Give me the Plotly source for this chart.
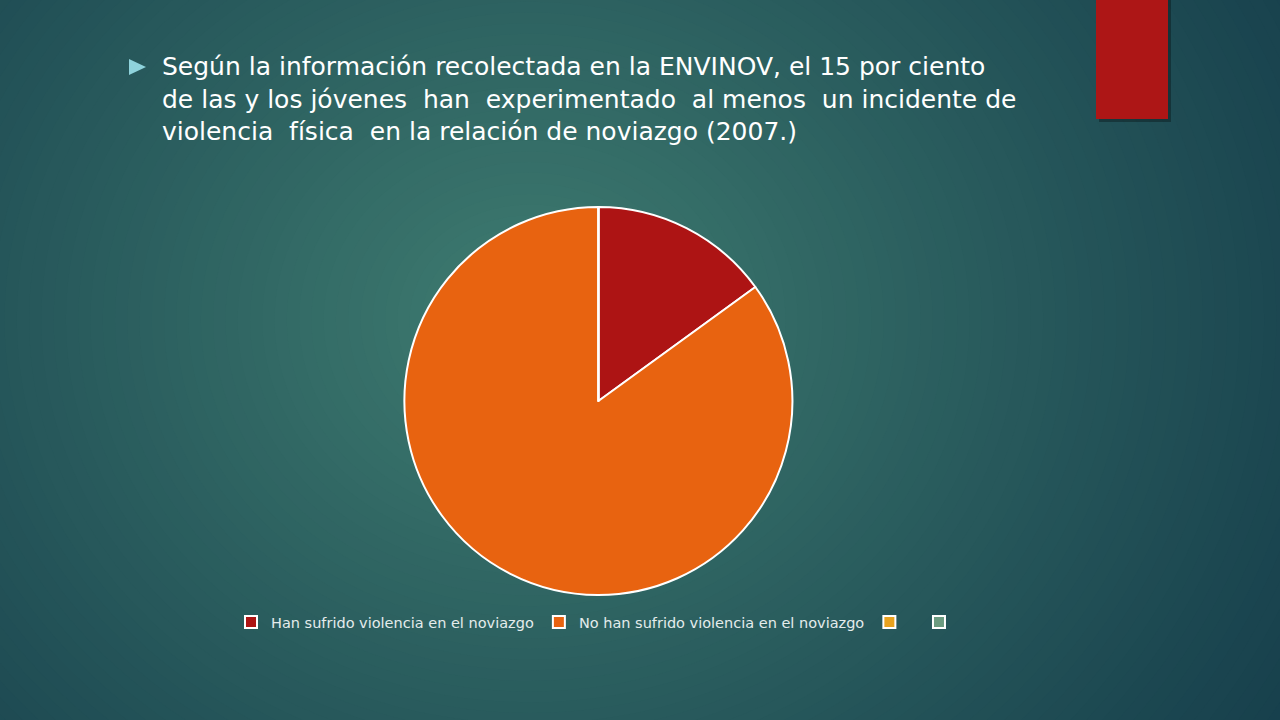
import plotly.graph_objects as go

# datos del gráfico
etiquetas = ["Han sufrido violencia en el noviazgo", "No han sufrido violencia en el noviazgo", " ", "\u00a0"]
valores = [15, 85, 0, 0]
colores = ["#ad1414", "#e86310", "#e8a21e", "#6b9b80"]

titulo = ("Según la información recolectada en la ENVINOV, el 15 por ciento<br>"
          "de las y los jóvenes  han  experimentado  al menos  un incidente de<br>"
          "violencia  física  en la relación de noviazgo (2007.)")

W, H = 1280, 720

fig = go.Figure()
fig.add_trace(go.Pie(
    labels=etiquetas,
    values=valores,
    marker=dict(colors=colores, line=dict(color="white", width=2)),
    sort=False,
    direction="clockwise",
    rotation=0,
    textinfo="none",
    hoverinfo="label+value",
    domain=dict(x=[0.30, 0.635], y=[(H - 595) / H, (H - 207) / H]),
))

# fondo con degradado radial (círculos concéntricos)
shapes = []
c0 = (0x10, 0x35, 0x46)
c1 = (0x3e, 0x7b, 0x70)
cx, cy = 530, 320
n = 90
for i in range(n):
    t = i / (n - 1)
    r = 950 * (1 - t) + 30
    col = tuple(int(c0[k] + (c1[k] - c0[k]) * t ** 1.2) for k in range(3))
    shapes.append(dict(
        type="circle", xref="paper", yref="paper", layer="below",
        x0=(cx - r * 1.15) / W, x1=(cx + r * 1.15) / W,
        y0=1 - (cy + r) / H, y1=1 - (cy - r) / H,
        fillcolor="rgb(%d,%d,%d)" % col, line=dict(width=0),
    ))

# rectángulo rojo
shapes.append(dict(type="rect", xref="paper", yref="paper", layer="below",
                   x0=1099 / W, x1=1171 / W, y0=1 - 122 / H, y1=1.0,
                   fillcolor="rgba(0,0,0,0.3)", line=dict(width=0)))
shapes.append(dict(type="rect", xref="paper", yref="paper", layer="below",
                   x0=1096 / W, x1=1168 / W, y0=1 - 119 / H, y1=1.0,
                   fillcolor="#ad1616", line=dict(width=0)))
# viñeta triangular
shapes.append(dict(type="path", xref="paper", yref="paper", layer="above",
                   path="M %f %f L %f %f L %f %f Z" % (
                       129 / W, 1 - 59 / H, 146 / W, 1 - 67 / H, 129 / W, 1 - 75 / H),
                   fillcolor="#8fd3dc", line=dict(width=0)))

fig.update_layout(
    width=W, height=H,
    margin=dict(l=0, r=0, t=0, b=0),
    paper_bgcolor="#163f4c",
    shapes=shapes,
    showlegend=True,
    legend=dict(orientation="h", x=600 / W, xanchor="center", y=1 - 622 / H, yanchor="middle",
                font=dict(family="DejaVu Sans", size=14.5, color="#e4ecec"),
                bgcolor="rgba(0,0,0,0)", itemwidth=30, traceorder="normal"),
    annotations=[dict(
        text=titulo, xref="paper", yref="paper", x=160 / W, y=1 - 50 / H,
        xanchor="left", yanchor="top", align="left", showarrow=False,
        font=dict(family="DejaVu Sans", size=25, color="white"),
    )],
)

fig.write_html("out.html", config={"displayModeBar": False},
               post_script="document.body.style.margin='0';")
